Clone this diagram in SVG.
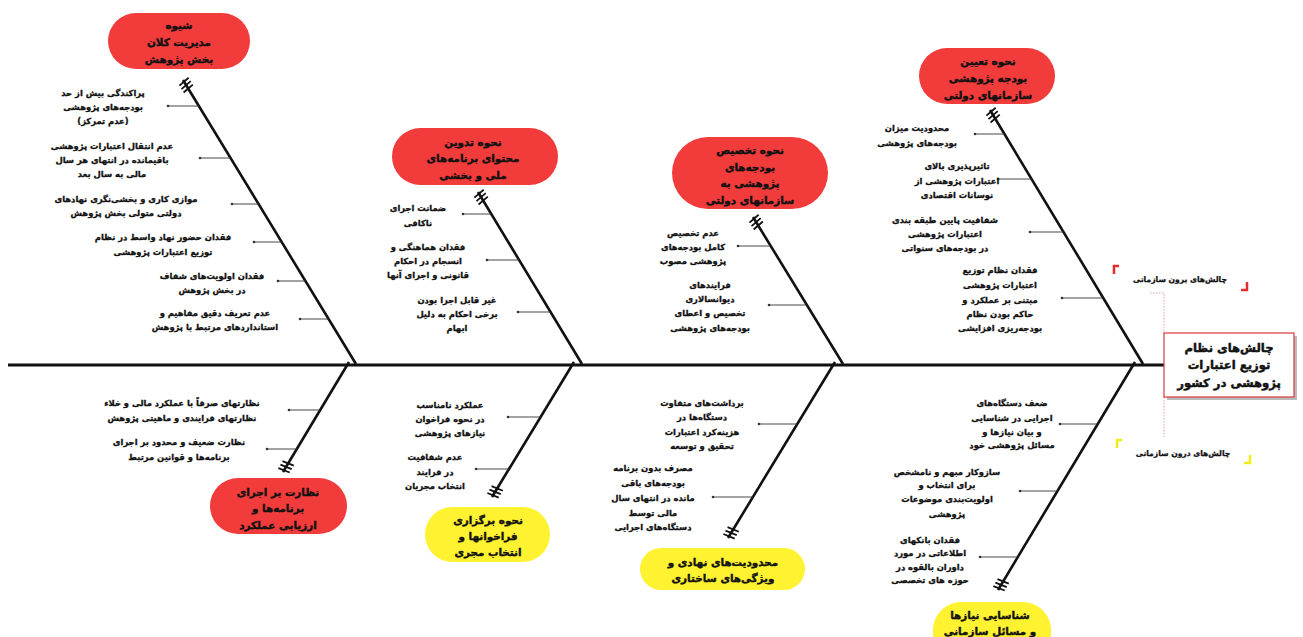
<svg xmlns="http://www.w3.org/2000/svg" width="1303" height="637" viewBox="0 0 1303 637">
<defs>
<style>
text{font-family:"DejaVu Sans",sans-serif;font-weight:bold;fill:#111;stroke:#111;stroke-width:0.3;direction:rtl;text-anchor:middle}
.s{font-size:8.4px}
.c{font-size:10.4px;stroke-width:0.4}
.h{font-size:11.6px;stroke-width:0.45}
.l{font-size:7.6px}
.bone{stroke:#111;stroke-width:2.6;fill:none;marker-start:url(#hatch)}
.sub{stroke:#333;stroke-width:0.9}
.dot{fill:#333}
.red{fill:#f23b3b}
.yel{fill:#fff230}
</style>
<marker id="hatch" markerUnits="userSpaceOnUse" markerWidth="20" markerHeight="20" refX="0" refY="0" viewBox="-2 -10 20 20" orient="auto" overflow="visible">
<path d="M1,-6 L3,6 M5,-6 L7,6 M9,-6 L11,6" stroke="#111" stroke-width="1.8" fill="none"/>
</marker>
</defs>
<rect width="1303" height="637" fill="#fff"/>

<g id="connectors">
<line x1="8" y1="365" x2="1165" y2="365" stroke="#111" stroke-width="3"/>
<path class="bone" d="M183,80 L356,364"/>
<path class="bone" d="M478,192 L582,364"/>
<path class="bone" d="M753,217 L843,364"/>
<path class="bone" d="M990,110 L1143,364"/>
<path class="bone" d="M283,472 L349,362"/>
<path class="bone" d="M492,497 L574,362"/>
<path class="bone" d="M728,538 L835,362"/>
<path class="bone" d="M998,590 L1135,362"/>
<g class="sub">
<line x1="168" y1="106" x2="199" y2="106"/>
<line x1="200" y1="158" x2="230.5" y2="158"/>
<line x1="232" y1="204" x2="258.5" y2="204"/>
<line x1="254" y1="242" x2="281.7" y2="242"/>
<line x1="278" y1="281" x2="305.4" y2="281"/>
<line x1="300" y1="319" x2="328.6" y2="319"/>
<line x1="463" y1="214" x2="491.3" y2="214"/>
<line x1="487" y1="260" x2="519.1" y2="260"/>
<line x1="518" y1="312" x2="550.6" y2="312"/>
<line x1="738" y1="246" x2="770.7" y2="246"/>
<line x1="769" y1="305" x2="806.9" y2="305"/>
<line x1="975" y1="134" x2="1004.5" y2="134"/>
<line x1="998" y1="179" x2="1031.5" y2="179"/>
<line x1="1030" y1="232" x2="1063.4" y2="232"/>
<line x1="1062" y1="298" x2="1103.2" y2="298"/>
<line x1="289" y1="410" x2="320" y2="410"/>
<line x1="267" y1="449" x2="296.8" y2="449"/>
<line x1="508" y1="417" x2="540.5" y2="417"/>
<line x1="476" y1="469" x2="509" y2="469"/>
<line x1="759" y1="424" x2="797" y2="424"/>
<line x1="713" y1="497" x2="753" y2="497"/>
<line x1="1060" y1="424" x2="1097.6" y2="424"/>
<line x1="1020" y1="491" x2="1057.4" y2="491"/>
<line x1="980" y1="557" x2="1017.8" y2="557"/>
</g>
<g class="dot">
<circle cx="168" cy="106" r="1.3"/><circle cx="200" cy="158" r="1.3"/><circle cx="232" cy="204" r="1.3"/><circle cx="254" cy="242" r="1.3"/><circle cx="278" cy="281" r="1.3"/><circle cx="300" cy="319" r="1.3"/>
<circle cx="463" cy="214" r="1.3"/><circle cx="487" cy="260" r="1.3"/><circle cx="518" cy="312" r="1.3"/>
<circle cx="738" cy="246" r="1.3"/><circle cx="769" cy="305" r="1.3"/>
<circle cx="975" cy="134" r="1.3"/><circle cx="998" cy="179" r="1.3"/><circle cx="1030" cy="232" r="1.3"/><circle cx="1062" cy="298" r="1.3"/>
<circle cx="289" cy="410" r="1.3"/><circle cx="267" cy="449" r="1.3"/>
<circle cx="508" cy="417" r="1.3"/><circle cx="476" cy="469" r="1.3"/>
<circle cx="759" cy="424" r="1.3"/><circle cx="713" cy="497" r="1.3"/>
<circle cx="1060" cy="424" r="1.3"/><circle cx="1020" cy="491" r="1.3"/><circle cx="980" cy="557" r="1.3"/>
</g>
<path d="M1150,293 H1164 V333 M1164,397 V437" stroke="#e08080" stroke-width="0.8" stroke-dasharray="1.5,1.5" fill="none"/>
</g>

<g id="head">
<rect x="1167" y="336" width="130" height="64" fill="#bbb"/>
<rect x="1164" y="333" width="130" height="64" fill="#fff" stroke="#d9363e" stroke-width="1.2"/>
<text class="h" x="1229" y="352">چالش‌های نظام</text>
<text class="h" x="1229" y="369">توزیع اعتبارات</text>
<text class="h" x="1229" y="387">پژوهشی در کشور</text>
</g>

<g id="outer-label">
<path d="M1114,274 V266 H1119" stroke="#e52b2b" stroke-width="2.5" fill="none"/>
<path d="M1241,290 H1247 V282" stroke="#e52b2b" stroke-width="2.5" fill="none"/>
<text class="l" x="1180" y="282">چالش‌های برون سازمانی</text>
</g>
<g id="inner-label">
<path d="M1117,448 V440 H1122" stroke="#f3ea1a" stroke-width="2.5" fill="none"/>
<path d="M1244,463 H1250 V455" stroke="#f3ea1a" stroke-width="2.5" fill="none"/>
<text class="l" x="1183" y="456">چالش‌های درون سازمانی</text>
</g>

<g id="cat1">
<rect class="red" x="108" y="13" width="142" height="56" rx="28"/>
<text class="c" x="179" y="29">شیوه</text>
<text class="c" x="179" y="46">مدیریت کلان</text>
<text class="c" x="179" y="63">بخش پژوهش</text>
</g>
<g id="c1-items">
<text class="s" x="103" y="96">پراکندگی بیش از حد</text>
<text class="s" x="103" y="110">بودجه‌های پژوهشی</text>
<text class="s" x="103" y="124">(عدم تمرکز)</text>
<text class="s" x="112" y="149">عدم انتقال اعتبارات پژوهشی</text>
<text class="s" x="112" y="163">باقیمانده در انتهای هر سال</text>
<text class="s" x="112" y="177">مالی به سال بعد</text>
<text class="s" x="126" y="202">موازی کاری و بخشی‌نگری نهادهای</text>
<text class="s" x="126" y="216">دولتی متولی بخش پژوهش</text>
<text class="s" x="163" y="240">فقدان حضور نهاد واسط در نظام</text>
<text class="s" x="163" y="255">توزیع اعتبارات پژوهشی</text>
<text class="s" x="212" y="279">فقدان اولویت‌های شفاف</text>
<text class="s" x="212" y="293">در بخش پژوهش</text>
<text class="s" x="215" y="316">عدم تعریف دقیق مفاهیم و</text>
<text class="s" x="215" y="330">استانداردهای مرتبط با پژوهش</text>
</g>

<g id="cat2">
<rect class="red" x="392" y="128" width="166" height="57" rx="28.5"/>
<text class="c" x="473" y="146">نحوه تدوین</text>
<text class="c" x="473" y="162">محتوای برنامه‌های</text>
<text class="c" x="473" y="179">ملی و بخشی</text>
</g>
<g id="c2-items">
<text class="s" x="418" y="211">ضمانت اجرای</text>
<text class="s" x="418" y="226">ناکافی</text>
<text class="s" x="428" y="250">فقدان هماهنگی و</text>
<text class="s" x="428" y="264">انسجام در احکام</text>
<text class="s" x="428" y="278">قانونی و اجرای آنها</text>
<text class="s" x="457" y="303">غیر قابل اجرا بودن</text>
<text class="s" x="457" y="317">برخی احکام به دلیل</text>
<text class="s" x="457" y="331">ابهام</text>
</g>

<g id="cat3">
<rect class="red" x="672" y="137" width="156" height="72" rx="36"/>
<text class="c" x="750" y="154">نحوه تخصیص</text>
<text class="c" x="750" y="171">بودجه‌های</text>
<text class="c" x="750" y="187">پژوهشی به</text>
<text class="c" x="750" y="204">سازمانهای دولتی</text>
</g>
<g id="c3-items">
<text class="s" x="693" y="236">عدم تخصیص</text>
<text class="s" x="693" y="250">کامل بودجه‌های</text>
<text class="s" x="693" y="264">پژوهشی مصوب</text>
<text class="s" x="710" y="288">فرایندهای</text>
<text class="s" x="710" y="302">دیوانسالاری</text>
<text class="s" x="710" y="316">تخصیص و اعطای</text>
<text class="s" x="710" y="331">بودجه‌های پژوهشی</text>
</g>

<g id="cat4">
<rect class="red" x="919" y="48" width="136" height="56" rx="28"/>
<text class="c" x="988" y="65">نحوه تعیین</text>
<text class="c" x="988" y="82">بودجه پژوهشی</text>
<text class="c" x="988" y="99">سازمانهای دولتی</text>
</g>
<g id="c4-items">
<text class="s" x="917" y="131">محدودیت میزان</text>
<text class="s" x="917" y="146">بودجه‌های پژوهشی</text>
<text class="s" x="957" y="169">تاثیرپذیری بالای</text>
<text class="s" x="957" y="184">اعتبارات پژوهشی از</text>
<text class="s" x="957" y="198">نوسانات اقتصادی</text>
<text class="s" x="945" y="223">شفافیت پایین طبقه بندی</text>
<text class="s" x="945" y="237">اعتبارات پژوهشی</text>
<text class="s" x="945" y="251">در بودجه‌های سنواتی</text>
<text class="s" x="1000" y="273">فقدان نظام توزیع</text>
<text class="s" x="1000" y="288">اعتبارات پژوهشی</text>
<text class="s" x="1000" y="303">مبتنی بر عملکرد و</text>
<text class="s" x="1000" y="317">حاکم بودن نظام</text>
<text class="s" x="1000" y="331">بودجه‌ریزی افزایشی</text>
</g>

<g id="cat5">
<rect class="red" x="210" y="478" width="137" height="56" rx="28"/>
<text class="c" x="278" y="496">نظارت بر اجرای</text>
<text class="c" x="278" y="512">برنامه‌ها و</text>
<text class="c" x="278" y="529">ارزیابی عملکرد</text>
</g>
<g id="c5-items">
<text class="s" x="182" y="406">نظارتهای صرفاً با عملکرد مالی و خلاء</text>
<text class="s" x="182" y="421">نظارتهای فرایندی و ماهیتی پژوهش</text>
<text class="s" x="179" y="445">نظارت ضعیف و محدود بر اجرای</text>
<text class="s" x="179" y="460">برنامه‌ها و قوانین مرتبط</text>
</g>

<g id="cat6">
<rect class="yel" x="425" y="507" width="125" height="55" rx="27.5"/>
<text class="c" x="488" y="524">نحوه برگزاری</text>
<text class="c" x="488" y="540">فراخوانها و</text>
<text class="c" x="488" y="556">انتخاب مجری</text>
</g>
<g id="c6-items">
<text class="s" x="450" y="408">عملکرد نامناسب</text>
<text class="s" x="450" y="422">در نحوه فراخوان</text>
<text class="s" x="450" y="436">نیازهای پژوهشی</text>
<text class="s" x="435" y="460">عدم شفافیت</text>
<text class="s" x="435" y="475">در فرایند</text>
<text class="s" x="435" y="489">انتخاب مجریان</text>
</g>

<g id="cat7">
<rect class="yel" x="640" y="548" width="165" height="42" rx="21"/>
<text class="c" x="723" y="566">محدودیت‌های نهادی و</text>
<text class="c" x="723" y="582">ویژگی‌های ساختاری</text>
</g>
<g id="c7-items">
<text class="s" x="702" y="406">برداشت‌های متفاوت</text>
<text class="s" x="702" y="420">دستگاه‌ها در</text>
<text class="s" x="702" y="435">هزینه‌کرد اعتبارات</text>
<text class="s" x="702" y="449">تحقیق و توسعه</text>
<text class="s" x="653" y="471">مصرف بدون برنامه</text>
<text class="s" x="653" y="486">بودجه‌های باقی</text>
<text class="s" x="653" y="501">مانده در انتهای سال</text>
<text class="s" x="653" y="516">مالی توسط</text>
<text class="s" x="653" y="530">دستگاه‌های اجرایی</text>
</g>

<g id="cat8">
<rect class="yel" x="933" y="602" width="118" height="60" rx="28"/>
<text class="c" x="990" y="619">شناسایی نیازها</text>
<text class="c" x="990" y="635">و مسائل سازمانی</text>
</g>
<g id="c8-items">
<text class="s" x="1012" y="406">ضعف دستگاه‌های</text>
<text class="s" x="1012" y="421">اجرایی در شناسایی</text>
<text class="s" x="1012" y="435">و بیان نیازها و</text>
<text class="s" x="1012" y="448">مسائل پژوهشی خود</text>
<text class="s" x="947" y="475">سازوکار مبهم و نامشخص</text>
<text class="s" x="947" y="488">برای انتخاب و</text>
<text class="s" x="947" y="502">اولویت‌بندی موضوعات</text>
<text class="s" x="947" y="517">پژوهشی</text>
<text class="s" x="930" y="543">فقدان بانکهای</text>
<text class="s" x="930" y="556">اطلاعاتی در مورد</text>
<text class="s" x="930" y="570">داوران بالقوه در</text>
<text class="s" x="930" y="583">حوزه های تخصصی</text>
</g>
</svg>
